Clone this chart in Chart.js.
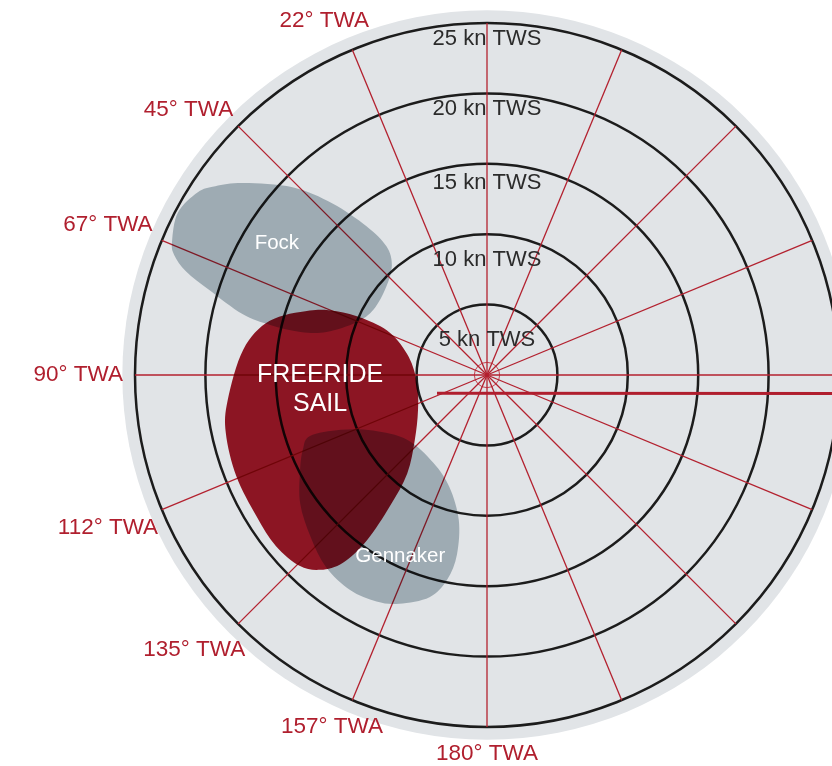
<!DOCTYPE html>
<html>
<head>
<meta charset="utf-8">
<script src="https://cdn.jsdelivr.net/npm/chart.js@4.4.1/dist/chart.umd.min.js"></script>
<style>
  html, body { margin: 0; padding: 0; background: #fff; }
  #wrap { position: relative; width: 832px; height: 766px; overflow: hidden; }
  #polar { position: absolute; left: -13px; top: -17px; }
</style>
</head>
<body>
<div id="wrap"><canvas id="polar" width="1000" height="785"></canvas></div>
<script>
// spokes every 22.5 deg, clockwise from the top; only the port side is labelled
const twaLabels = ['', '', '', '', '', '', '', '', '180° TWA', '157° TWA', '135° TWA', '112° TWA', '90° TWA', '67° TWA', '45° TWA', '22° TWA'];
const twsTicks = [5, 10, 15, 20, 25];
const hubRing = 0.9;
const diskTws = 25.9;

// sail areas: true wind angle (deg) / true wind speed (kn) along the outline
const fockTwa = [67, 62.3, 57.7, 55.2, 51.7, 46, 42, 39, 38, 41, 49, 60, 68, 75, 77, 77, 76, 73, 71, 69];
const fockTws = [24.3, 24.8, 24.3, 23.5, 22.0, 19.2, 16.4, 13.6, 11.6, 10.3, 9.5, 9.3, 10.0, 11.8, 13.6, 15.8, 17.9, 20.6, 22.6, 23.8];

const freerideTwa = [70, 76, 84, 95.5, 102.5, 112, 121.5, 129, 135.5, 139.5, 142.5, 144, 143.5, 141, 132, 117, 97, 77, 66.5, 65.5, 67];
const freerideTws = [13.4, 15.9, 17.4, 18.5, 19.0, 19.2, 19.2, 19.3, 19.0, 18.2, 16.8, 14.5, 11.6, 9.0, 6.9, 5.5, 5.0, 5.7, 7.5, 9.7, 11.6];

const gennakerTwa = [109, 110.5, 116, 129, 148.5, 161.5, 169, 170.5, 169, 165.5, 159, 154, 147.5, 140, 132.5, 124.5, 117, 112];
const gennakerTws = [13.3, 11.1, 9.0, 7.3, 7.3, 8.4, 10.5, 12.9, 14.8, 16.3, 17.4, 17.9, 18.1, 17.8, 17.0, 16.1, 14.9, 14.1];

const sailNames = [['Fock'], ['FREERIDE', 'SAIL'], ['Gennaker']];
const sailNameTwa = [58, 95, 154.5];
const sailNameTws = [17.6, 11.9, 14.3];

// heading bar (negative angle = starboard side)
const headingTwa = [110, -92.9];
const headingTws = [3.78, 25.96];

const FONT = "'Liberation Sans', Arial, Helvetica, sans-serif";
const tickGap = { 5: 35, 10: 25.4, 15: 19, 20: 15.3, 25: 15.6 };
// per spoke label: padding, line height, blank lines before / after
const labelPad = [0, 0, 0, 0, 0, 0, 0, 0, 0, -93.2, -23, -9, -1, -3, -6, -56.7];
const labelLh = [27, 27, 27, 27, 27, 27, 27, 27, 27, 28.7, 22.1, 33, 27, 23, 23.4, 27.7];
const labelBefore = [0, 0, 0, 0, 0, 0, 0, 0, 0, 3, 1, 0, 0, 0, 0, 0];
const labelAfter = [0, 0, 0, 0, 0, 0, 0, 0, 0, 0, 0, 0, 0, 0, 0, 2];

function toXY(scale, twa, tws) {
    const step = 360 / twaLabels.length;
    return scale.getPointPosition((360 - twa) / step, scale.getDistanceFromCenterForValue(tws));
}

function smoothShape(ctx, pts) {
    const n = pts.length;
    ctx.beginPath();
    ctx.moveTo(pts[0].x, pts[0].y);
    for (let i = 0; i < n; i++) {
        const p0 = pts[(i - 1 + n) % n], p1 = pts[i], p2 = pts[(i + 1) % n], p3 = pts[(i + 2) % n];
        ctx.bezierCurveTo(
            p1.x + (p2.x - p0.x) / 6, p1.y + (p2.y - p0.y) / 6,
            p2.x - (p3.x - p1.x) / 6, p2.y - (p3.y - p1.y) / 6,
            p2.x, p2.y);
    }
    ctx.closePath();
}

const diskPlugin = {
    id: 'disk',
    beforeDraw(chart) {
        const r = chart.scales.r;
        const ctx = chart.ctx;
        ctx.save();
        ctx.beginPath();
        ctx.arc(r.xCenter, r.yCenter, r.getDistanceFromCenterForValue(diskTws), 0, Math.PI * 2);
        ctx.fillStyle = '#e1e4e7';
        ctx.fill();
        ctx.restore();
    }
};

const sailPlugin = {
    id: 'sails',
    afterDatasetsDraw(chart) {
        const r = chart.scales.r;
        const ctx = chart.ctx;
        const sails = [
            [fockTwa, fockTws, '#b3bfc6'],
            [freerideTwa, freerideTws, '#9f1726'],
            [gennakerTwa, gennakerTws, '#b3bfc6']
        ];

        ctx.save();
        ctx.globalCompositeOperation = 'multiply';
        sails.forEach(([twa, tws, color]) => {
            smoothShape(ctx, twa.map((a, i) => toXY(r, a, tws[i])));
            ctx.fillStyle = color;
            ctx.fill();
        });
        ctx.restore();

        ctx.save();
        const a = toXY(r, headingTwa[0], headingTws[0]);
        const b = toXY(r, headingTwa[1], headingTws[1]);
        ctx.beginPath();
        ctx.moveTo(a.x, a.y);
        ctx.lineTo(b.x, b.y);
        ctx.strokeStyle = '#b01e2e';
        ctx.lineWidth = 3;
        ctx.stroke();

        ctx.fillStyle = '#ffffff';
        ctx.textAlign = 'center';
        ctx.textBaseline = 'middle';
        sailNames.forEach((lines, i) => {
            const p = toXY(r, sailNameTwa[i], sailNameTws[i]);
            const big = lines.length > 1;
            const size = big ? 25 : 20.5;
            const lh = big ? 28.6 : 0;
            ctx.font = size + 'px ' + FONT;
            lines.forEach((t, j) => {
                ctx.fillText(t, p.x, p.y + (j - (lines.length - 1) / 2) * lh);
            });
        });
        ctx.restore();
    }
};

new Chart(document.getElementById('polar'), {
    type: 'radar',
    data: {
        labels: twaLabels,
        datasets: []
    },
    options: {
        responsive: false,
        animation: false,
        plugins: {
            legend: { display: false },
            tooltip: { enabled: false }
        },
        scales: {
            r: {
                min: 0,
                max: 25,
                startAngle: 0,
                afterBuildTicks: (scale) => {
                    scale.ticks = [0, hubRing].concat(twsTicks).map(v => ({ value: v }));
                },
                grid: {
                    circular: true,
                    color: (c) => (c.tick && c.tick.value === hubRing ? '#c4424f' : '#1c1c1c'),
                    lineWidth: (c) => (c.tick && c.tick.value === hubRing ? 1 : 2.5)
                },
                angleLines: {
                    color: '#b3212f',
                    lineWidth: 1.3
                },
                ticks: {
                    showLabelBackdrop: false,
                    color: '#2b2b2b',
                    font: (c) => ({
                        family: FONT,
                        size: 22,
                        lineHeight: ((c.tick && tickGap[c.tick.value]) || 26) + 'px'
                    }),
                    callback: (v) => (twsTicks.includes(v) ? ['', v + ' kn TWS'] : '')
                },
                pointLabels: {
                    color: '#b01f2e',
                    font: (c) => ({ family: FONT, size: 22.5, lineHeight: labelLh[c.index] + 'px' }),
                    padding: (c) => labelPad[c.index],
                    callback: (label, i) => {
                        if (!label) return label;
                        if (!labelBefore[i] && !labelAfter[i]) return label;
                        return Array(labelBefore[i]).fill('').concat([label], Array(labelAfter[i]).fill(''));
                    }
                }
            }
        }
    },
    plugins: [diskPlugin, sailPlugin]
});
</script>
</body>
</html>
